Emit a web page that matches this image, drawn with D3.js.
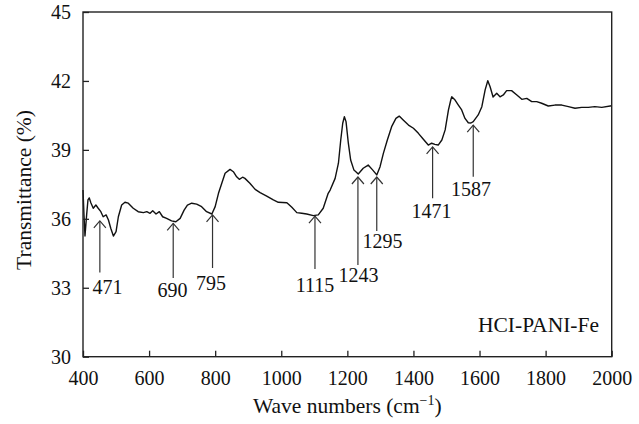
<!DOCTYPE html>
<html>
<head>
<meta charset="utf-8">
<script src="https://cdn.jsdelivr.net/npm/d3@7"></script>
<style>
  body { margin: 0; background: #fff; }
  svg { display: block; }
  text { font-family: "Liberation Serif", "DejaVu Serif", serif; fill: #111; }
</style>
</head>
<body>
<svg id="chart" width="639" height="424"></svg>
<script>
// FTIR spectrum: wave number (cm-1) and transmittance (%)
const waveNumbers = [400, 403, 406, 411, 415, 419, 424, 431, 439, 446, 454, 461, 470, 477, 484, 492, 500, 507, 517, 527, 537, 552, 567, 583, 593, 603, 611, 621, 631, 641, 653, 668, 681, 694, 706, 716, 729, 744, 759, 774, 790, 800, 810, 820, 830, 845, 855, 865, 873, 883, 890, 905, 921, 936, 956, 976, 991, 1017, 1032, 1047, 1062, 1077, 1097, 1112, 1127, 1142, 1148, 1163, 1173, 1180, 1186, 1191, 1196, 1203, 1210, 1220, 1233, 1248, 1263, 1277, 1289, 1299, 1309, 1321, 1334, 1347, 1357, 1369, 1385, 1400, 1415, 1430, 1445, 1455, 1465, 1475, 1486, 1496, 1506, 1513, 1516, 1526, 1536, 1546, 1556, 1566, 1574, 1581, 1596, 1607, 1617, 1625, 1632, 1641, 1652, 1662, 1672, 1682, 1697, 1713, 1728, 1743, 1758, 1773, 1788, 1808, 1828, 1849, 1869, 1889, 1909, 1929, 1949, 1970, 2000];
const transmittance = [37.25, 36.17, 35.25, 36.17, 36.82, 36.91, 36.69, 36.46, 36.60, 36.46, 36.31, 36.09, 36.17, 35.95, 35.59, 35.25, 35.44, 36.09, 36.60, 36.72, 36.68, 36.46, 36.31, 36.27, 36.31, 36.24, 36.35, 36.21, 36.31, 36.09, 36.02, 35.91, 35.87, 36.02, 36.38, 36.60, 36.68, 36.64, 36.53, 36.31, 36.21, 36.53, 37.11, 37.55, 37.98, 38.15, 38.05, 37.83, 37.72, 37.81, 37.76, 37.55, 37.28, 37.14, 36.99, 36.82, 36.72, 36.70, 36.50, 36.27, 36.24, 36.21, 36.14, 36.17, 36.46, 37.11, 37.25, 37.76, 38.42, 39.43, 40.16, 40.44, 40.23, 39.29, 38.56, 38.12, 37.95, 38.20, 38.34, 38.12, 37.91, 38.27, 38.85, 39.43, 40.01, 40.37, 40.47, 40.30, 40.08, 39.94, 39.72, 39.46, 39.21, 39.29, 39.24, 39.21, 39.43, 39.87, 40.74, 41.17, 41.31, 41.17, 40.95, 40.74, 40.37, 40.18, 40.17, 40.23, 40.52, 40.88, 41.61, 42.01, 41.75, 41.30, 41.46, 41.31, 41.39, 41.58, 41.58, 41.39, 41.20, 41.24, 41.10, 41.10, 41.03, 40.91, 40.95, 40.95, 40.88, 40.81, 40.85, 40.85, 40.88, 40.85, 40.92];

// peak annotations: label, arrow position, arrow tip / tail and label position (data units)
const peakLabels = ['471', '690', '795', '1115', '1243', '1295', '1471', '1587'];
const arrowX = [451, 673, 792, 1102, 1232, 1289, 1458, 1581];
const arrowTip = [35.91, 35.80, 36.17, 36.12, 37.82, 37.82, 39.13, 40.08];
const arrowTail = [33.66, 33.42, 33.86, 33.82, 33.99, 35.47, 36.89, 37.83];
const labelX = [474, 671, 787, 1102, 1234, 1306, 1455, 1574];
const labelY = [32.73, 32.60, 32.90, 32.82, 33.25, 34.73, 36.04, 36.99];

const xTicks = [400, 600, 800, 1000, 1200, 1400, 1600, 1800, 2000];
const yTicks = [30, 33, 36, 39, 42, 45];

const plotL = 83, plotR = 611.7, plotT = 12, plotB = 356.7;
const numSize = 20, titleSize = 21.5;

const svg = d3.select('#chart');

const x = d3.scaleLinear().domain([400, 2000]).range([plotL, plotR]);
const y = d3.scaleLinear().domain([30, 45]).range([plotB, plotT]);

// spectrum
const points = waveNumbers.map((w, i) => [w, transmittance[i]]);
const line = d3.line().x(d => x(d[0])).y(d => y(d[1]));

svg.append('path')
  .datum(points)
  .attr('d', line)
  .attr('fill', 'none')
  .attr('stroke', '#111')
  .attr('stroke-width', 1.4)
  .attr('stroke-linejoin', 'round');

// axes
svg.append('g')
  .attr('class', 'x_axis')
  .attr('transform', `translate(0, ${plotB})`)
  .call(d3.axisBottom(x).tickValues(xTicks).tickFormat(d3.format('d'))
    .tickSizeInner(-6).tickSizeOuter(0).tickPadding(14))
  .call(g => g.select('.domain').remove())
  .selectAll('text')
  .attr('font-size', numSize)
  .attr('font-family', null);

svg.append('g')
  .attr('class', 'y_axis')
  .attr('transform', `translate(${plotL}, 0)`)
  .call(d3.axisLeft(y).tickValues(yTicks).tickFormat(d3.format('d'))
    .tickSizeInner(-6).tickSizeOuter(0).tickPadding(12))
  .call(g => g.select('.domain').remove())
  .selectAll('text')
  .attr('font-size', numSize)
  .attr('font-family', null);

svg.selectAll('.tick line').attr('stroke', '#222').attr('stroke-width', 1.3);

// frame
svg.append('rect')
  .attr('x', plotL)
  .attr('y', plotT)
  .attr('width', plotR - plotL)
  .attr('height', plotB - plotT)
  .attr('fill', 'none')
  .attr('stroke', '#222')
  .attr('stroke-width', 1.4);

// peak arrows
const arrows = svg.append('g')
  .attr('stroke', '#333')
  .attr('stroke-width', 1.2)
  .attr('fill', 'none');

peakLabels.forEach((lab, i) => {
  const ax = x(arrowX[i]), ty = y(arrowTip[i]), by = y(arrowTail[i]);
  arrows.append('line')
    .attr('x1', ax).attr('y1', ty)
    .attr('x2', ax).attr('y2', by);
  arrows.append('path')
    .attr('d', `M${ax - 6},${ty + 7}L${ax},${ty}L${ax + 6},${ty + 7}`);
  svg.append('text')
    .attr('x', x(labelX[i]))
    .attr('y', y(labelY[i]))
    .attr('text-anchor', 'middle')
    .attr('font-size', numSize)
    .text(lab);
});

// sample name
svg.append('text')
  .attr('x', 599)
  .attr('y', 331.5)
  .attr('text-anchor', 'end')
  .attr('font-size', titleSize)
  .text('HCI-PANI-Fe');

// axis titles
const xTitle = svg.append('text')
  .attr('x', (plotL + plotR) / 2)
  .attr('y', 413)
  .attr('text-anchor', 'middle')
  .attr('font-size', titleSize);
xTitle.append('tspan').text('Wave numbers (cm');
xTitle.append('tspan').attr('font-size', 14).attr('dy', -8).text('\u22121');
xTitle.append('tspan').attr('dy', 8).text(')');

svg.append('text')
  .attr('transform', `translate(31, 190) rotate(-90)`)
  .attr('text-anchor', 'middle')
  .attr('font-size', titleSize)
  .text('Transmittance (%)');
</script>
</body>
</html>
